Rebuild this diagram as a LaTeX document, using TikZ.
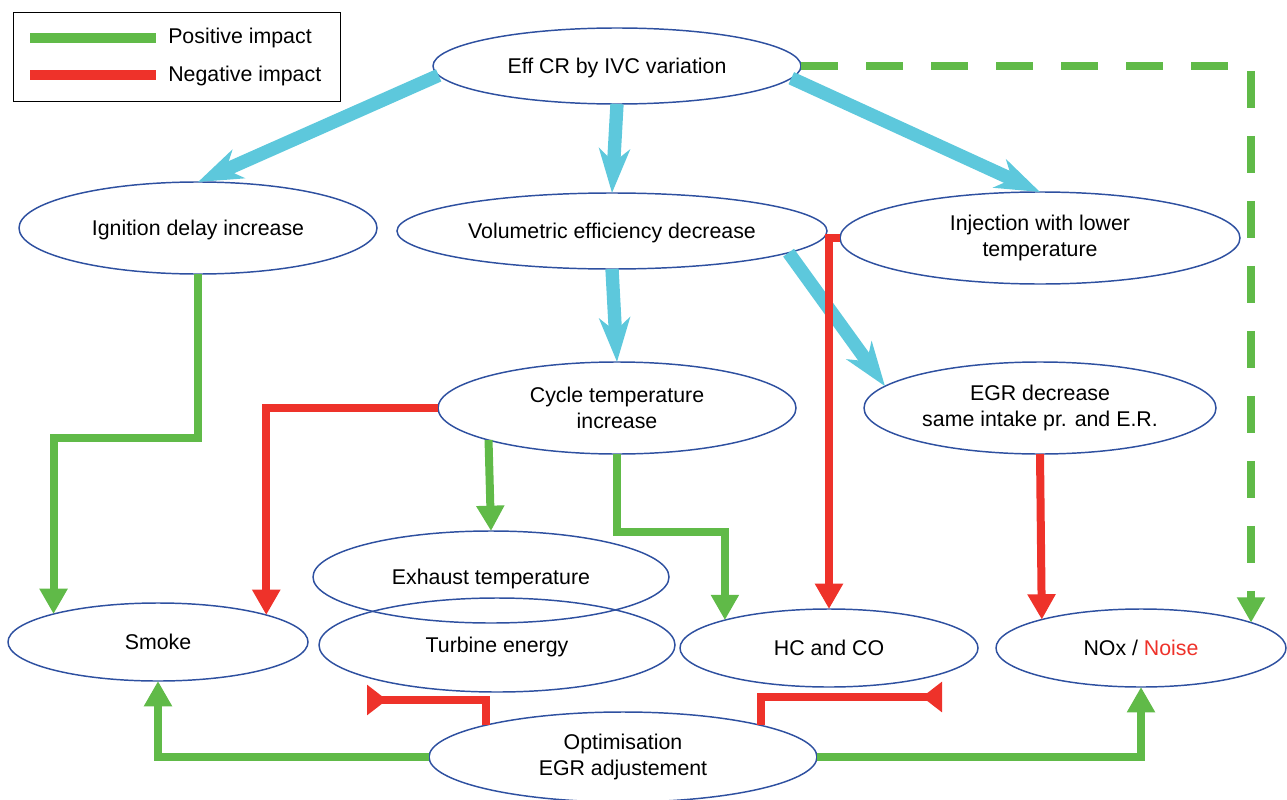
\documentclass[tikz,border=0pt]{standalone}
\usepackage{fontspec}
\setmainfont{Liberation Sans}
\usetikzlibrary{shapes.geometric,arrows.meta}
\definecolor{ellblue}{RGB}{46,80,160}
\definecolor{arrblue}{RGB}{93,200,220}
\definecolor{posgreen}{RGB}{96,186,72}
\definecolor{negred}{RGB}{238,50,42}
\begin{document}
\begin{tikzpicture}[x=0.75pt,y=-0.75pt,
  ell/.style 2 args={ellipse, draw=ellblue, line width=1.1pt, inner sep=0pt, outer sep=0pt,
    minimum width=#1*1.5pt, minimum height=#2*1.5pt, align=center,
    font=\fontsize{16pt}{19.5pt}\selectfont},
  oneline/.style={text depth=0pt},
  legtext/.style={anchor=west, inner sep=0pt, font=\fontsize{16pt}{19.5pt}\selectfont},
  bluearrow/.style={draw=arrblue, line width=10pt, -{Stealth[length=33pt, width=23pt, inset=10pt, fill=arrblue]}},
  posarrow/.style={draw=posgreen, line width=6pt, -{Triangle[length=19pt, width=20pt, fill=posgreen]}},
  negarrow/.style={draw=negred, line width=6pt, -{Triangle[length=19pt, width=20pt, fill=negred]}},
  negback/.style={draw=negred, line width=6pt, -{Triangle[reversed, length=15pt, width=22pt, fill=negred]}},
  posdashed/.style={posarrow, dash pattern=on 27.75pt off 21pt}
]
\useasboundingbox (0,0) rectangle (1287,799);

% legend
\node[draw, line width=1pt, minimum width=327*0.75pt, minimum height=89*0.75pt, inner sep=0pt, anchor=north west] (legend) at (13,12) {};
\coordinate (lg1) at (30,38);
\coordinate (lg2) at (156,38);
\coordinate (lr1) at (30,75);
\coordinate (lr2) at (156,75);
\draw[posgreen, line width=7pt] (lg1) -- (lg2);
\draw[negred, line width=7pt] (lr1) -- (lr2);
\node[legtext] (lpos) at (168,38) {Positive impact};
\node[legtext] (lneg) at (168,76) {Negative impact};

% ellipses
\node[ell={184}{38}, oneline] (effcr) at (617,66) {Eff CR by IVC variation};
\node[ell={179}{46}, oneline] (ign) at (198,228) {Ignition delay increase};
\node[ell={215}{38}, oneline] (vol) at (612,231) {Volumetric efficiency decrease};
\node[ell={200}{46}] (inj) at (1040,238) {Injection with lower\\temperature};
\node[ell={179}{46}] (cyc) at (617,408) {Cycle temperature\\increase};
\node[ell={176}{46}] (egr) at (1040,408) {EGR decrease\\same intake pr. and E.R.};
\node[ell={178}{46}, oneline] (exh) at (491,577) {Exhaust temperature};
\node[ell={150}{39}, oneline] (smoke) at (158,642) {Smoke};
\node[ell={178}{47}, oneline] (turb) at (497,645) {Turbine energy};
\node[ell={149}{39}, oneline] (hc) at (829,648) {HC and CO};
\node[ell={145}{39}, oneline] (nox) at (1141,648) {NOx / \textcolor{negred}{Noise}};
\node[ell={194}{45}] (opt) at (623,757) {Optimisation\\EGR adjustement};

% blue arrows
\draw[bluearrow] (effcr.183) -- (ign.north);
\draw[bluearrow] (effcr.south) -- (vol.north);
\draw[bluearrow] (effcr.-4) -- (inj.north);
\draw[bluearrow] (vol.south) -- (cyc.north);
\draw[bluearrow] (vol.-7) -- (egr.172);

% green arrows
\draw[posarrow] (ign.south) -- ++(0,164) -| (smoke.165.1);
\draw[posarrow] (cyc.194.7) -- (exh.north);
\draw[posarrow] (cyc.south) -- ++(0,78) -| (hc.165.5);
\draw[posdashed] (effcr.east) -| (nox.13.4);
\draw[posarrow] (opt.west) -| (smoke.south);
\draw[posarrow] (opt.east) -| (nox.south);

% red arrows
\draw[negarrow] (cyc.west) -| (smoke.14.6);
\draw[negarrow] (inj.west) -| (hc.north);
\draw[negarrow] (egr.south) -- (nox.164.7);
\coordinate (tEnd) at (367,700);
\coordinate (hEnd) at (942,697);
\draw[negback] (opt.167.3) |- (tEnd);
\draw[negback] (opt.13.2) |- (hEnd);
\end{tikzpicture}
\end{document}
